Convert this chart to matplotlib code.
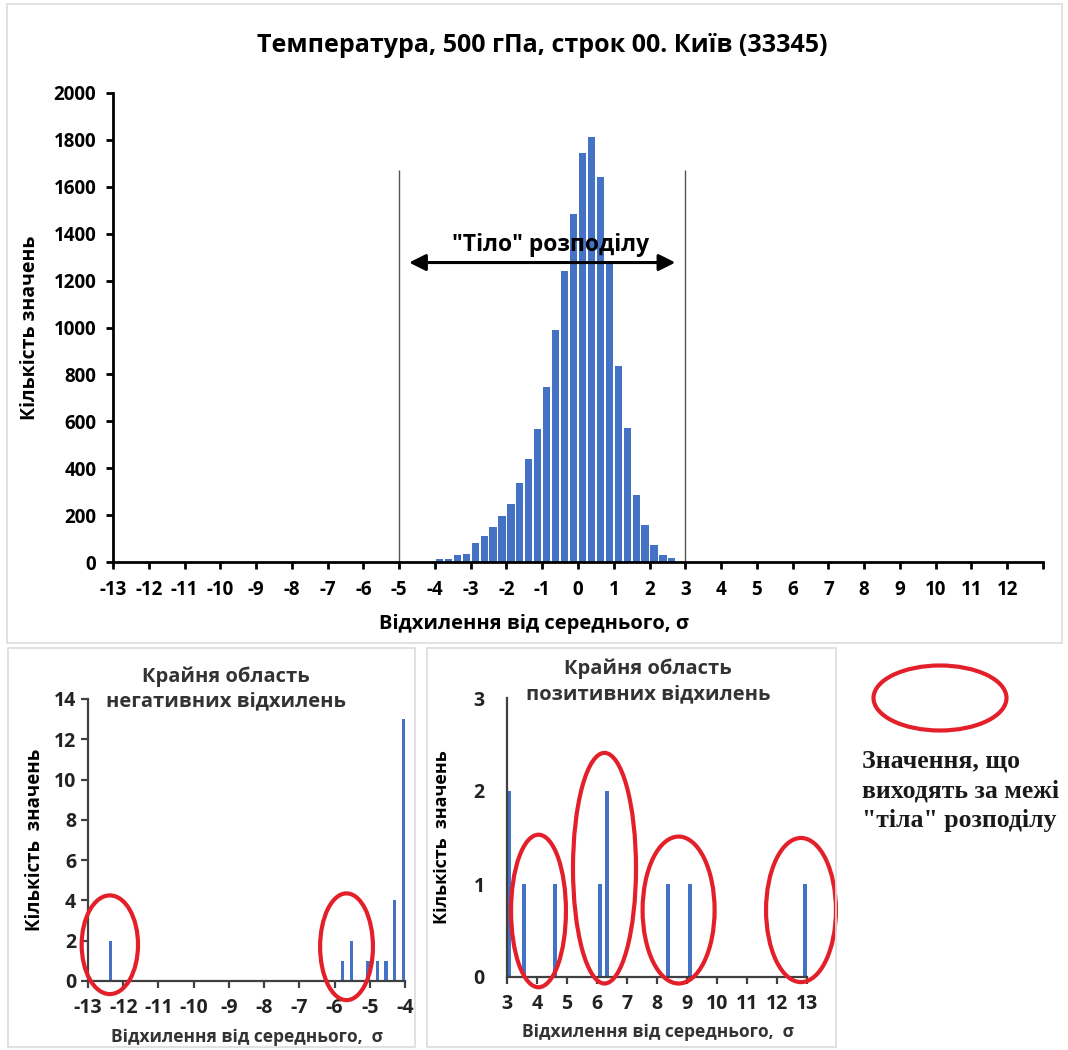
import matplotlib.pyplot as plt
from matplotlib.patches import Ellipse, Rectangle

# main histogram: bin centres (sigma) and counts
bin_centres = [-3.875, -3.625, -3.375, -3.125, -2.875, -2.625, -2.375, -2.125, -1.875,
               -1.625, -1.375, -1.125, -0.875, -0.625, -0.375, -0.125, 0.125, 0.375,
               0.625, 0.875, 1.125, 1.375, 1.625, 1.875, 2.125, 2.375, 2.625]
counts = [14, 14, 31, 34, 80, 113, 149, 196, 247, 338, 441, 569, 746, 990, 1240,
          1484, 1745, 1814, 1640, 1285, 834, 573, 285, 156, 72, 28, 18]
body_limits = [-5, 3]

# tails
neg_x = [-12.37, -5.77, -5.52, -5.05, -4.78, -4.54, -4.29, -4.05]
neg_y = [2, 1, 2, 1, 1, 1, 4, 13]
pos_x = [3.07, 3.57, 4.6, 6.09, 6.34, 8.37, 9.1, 12.95]
pos_y = [2, 1, 1, 1, 2, 1, 1, 1]

# red ellipses (centre x, centre y, width, height)
neg_marks = [(-12.38, 1.8, 1.6, 4.9), (-5.66, 1.7, 1.5, 5.3)]
pos_marks = [(4.05, 0.71, 1.83, 1.64), (6.25, 1.17, 2.1, 2.48),
             (8.72, 0.72, 2.4, 1.58), (12.8, 0.72, 2.33, 1.55)]

W, H = 1068, 1050
BLUE = '#4472C4'
RED = '#E3202A'
plt.rcParams['font.family'] = ['Open Sans', 'DejaVu Sans']
plt.rcParams['axes.unicode_minus'] = False

fig = plt.figure(figsize=(W / 100, H / 100), dpi=100)


def px(x0, y0, x1, y1):
    return [x0 / W, 1 - y1 / H, (x1 - x0) / W, (y1 - y0) / H]


# light panel frames
for x0, y0, x1, y1 in [(7, 4, 1062, 643), (8, 648, 415, 1047), (427, 648, 836, 1047)]:
    fig.patches.append(Rectangle((x0 / W, 1 - y1 / H), (x1 - x0) / W, (y1 - y0) / H,
                                 transform=fig.transFigure, fill=False,
                                 edgecolor='#dcdcdc', lw=1.2))

# ---- main chart
ax = fig.add_axes(px(113, 93, 1043, 562))
ax.bar(bin_centres, counts, width=0.2, color=BLUE, zorder=2)
ax.set_xlim(-13, 13)
ax.set_ylim(0, 2000)
ax.set_xticks(range(-13, 14))
ax.set_xticklabels([str(v) for v in range(-13, 13)] + [''])
ax.set_yticks(range(0, 2001, 200))
for s in ['top', 'right']:
    ax.spines[s].set_visible(False)
for s in ['left', 'bottom']:
    ax.spines[s].set_linewidth(2)
ax.tick_params(direction='out', length=5, width=2, labelsize=13.5)
ax.tick_params(axis='x', pad=8)
ax.tick_params(axis='y', pad=7)
for lab in ax.get_xticklabels() + ax.get_yticklabels():
    lab.set_fontweight('bold')
ax.vlines(body_limits, 0, 1670, color='#555555', lw=1, zorder=1)
ax.annotate('', xy=(-4.8, 1277), xytext=(2.8, 1277),
            arrowprops=dict(arrowstyle='<|-|>', color='black', lw=2.2,
                            mutation_scale=25), zorder=4)
ax.text(-0.77, 1300, '"Тіло" розподілу', ha='center', va='bottom',
        fontsize=16.5, fontweight='bold', zorder=5)
fig.text(542 / W, 1 - 45 / H, 'Температура, 500 гПа, строк 00. Київ (33345)',
         ha='center', va='center', fontsize=18, fontweight='bold')
ax.set_xlabel('Відхилення від середнього, σ', fontsize=14.5, fontweight='bold')
ax.xaxis.set_label_coords((534 - 113) / 930, -0.11)
ax.set_ylabel('Кількість значень', fontsize=14, fontweight='bold', labelpad=10)

# ---- negative tail
ax2 = fig.add_axes(px(88, 699, 405, 981))
ax2.bar(neg_x, neg_y, width=0.09, color=BLUE)
ax2.set_xlim(-13, -4)
ax2.set_ylim(0, 14)
ax2.set_xticks(range(-13, -3))
ax2.set_yticks(range(0, 15, 2))
for m in neg_marks:
    ax2.add_patch(Ellipse((m[0], m[1]), m[2], m[3], fill=False, edgecolor=RED,
                          lw=3, clip_on=False, zorder=5))
ax2.set_xlabel('Відхилення від середнього,  σ', fontsize=12.5, fontweight='bold',
               color='#333333')
ax2.xaxis.set_label_coords(0.50, -0.168)
ax2.set_ylabel('Кількість  значень', fontsize=13.5, fontweight='bold', labelpad=6)
ax2.text(0.435, 1.115, 'Крайня область\nнегативних відхилень', transform=ax2.transAxes,
         ha='center', va='top', fontsize=14.5, fontweight='bold', color='#333333',
         linespacing=1.3)

# ---- positive tail
ax3 = fig.add_axes(px(507, 698, 807, 977))
ax3.bar(pos_x, pos_y, width=0.14, color=BLUE)
ax3.set_xlim(3, 13)
ax3.set_ylim(0, 3)
ax3.set_xticks(range(3, 14))
ax3.set_yticks(range(0, 4))
for m in pos_marks:
    ax3.add_patch(Ellipse((m[0], m[1]), m[2], m[3], fill=False, edgecolor=RED,
                          lw=3, clip_on=False, zorder=5))
ax3.set_xlabel('Відхилення від середнього,  σ', fontsize=12.5, fontweight='bold',
               color='#333333')
ax3.xaxis.set_label_coords(0.503, -0.165)
ax3.set_ylabel('Кількість  значень', fontsize=13, fontweight='bold', labelpad=16)
ax3.text(0.47, 1.14, 'Крайня область\nпозитивних відхилень', transform=ax3.transAxes,
         ha='center', va='top', fontsize=14.5, fontweight='bold', color='#333333',
         linespacing=1.3)

for a in (ax2, ax3):
    for s in ['top', 'right']:
        a.spines[s].set_visible(False)
    for s in ['left', 'bottom']:
        a.spines[s].set_linewidth(1.6)
        a.spines[s].set_color('#404040')
    a.tick_params(direction='out', length=5, width=1.6, color='#404040',
                  labelsize=14, labelcolor='#222222')
    a.tick_params(axis='x', pad=7)
    for lab in a.get_xticklabels() + a.get_yticklabels():
        lab.set_fontweight('bold')
ax3.tick_params(axis='y', length=0, pad=16)

# ---- key
fig.patches.append(Ellipse((940 / W, 1 - 698 / H), 133 / W, 65 / H,
                           transform=fig.transFigure, fill=False, edgecolor=RED, lw=3))
fig.text(862 / W, 1 - 749 / H, 'Значення, що\nвиходять за межі\n"тіла" розподілу',
         ha='left', va='top', fontsize=18.5, fontweight='bold',
         family=['Liberation Serif', 'DejaVu Serif'], color='#1a1a1a', linespacing=1.4)

fig.savefig('out.png', dpi=100)
